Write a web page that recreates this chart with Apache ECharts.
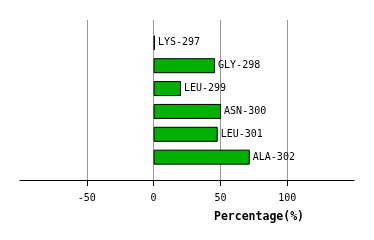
<!DOCTYPE html>
<html><head><meta charset="utf-8">
<script src="https://cdn.jsdelivr.net/npm/echarts@6/dist/echarts.min.js"></script>
<style>html,body{margin:0;padding:0;background:#fff}#c{width:374px;height:240px}</style>
</head><body><div id="c"></div>
<script>
const categories = ['LYS-297','GLY-298','LEU-299','ASN-300','LEU-301','ALA-302'];
const values = [1, 46, 20.5, 50.5, 48, 72];
const xTicks = [-50, 0, 50, 100];
const axisTitle = 'Percentage(%)';

const cats = [''].concat(categories).concat(['']);
const vals = [null].concat(values).concat([null]);
const font = 'DejaVu Sans Mono';
const chart = echarts.init(document.getElementById('c'), null, {renderer:'canvas'});
chart.setOption({
  animation:false,
  backgroundColor:'#fff',
  grid:{left:20, right:20, top:20, bottom:60, containLabel:false},
  title:{text:axisTitle, left:254, top:206, textAlign:'center',
    textStyle:{fontFamily:font, fontSize:11.5, fontWeight:'bold', color:'#000'}},
  xAxis:{type:'value', min:-100, max:150, interval:50,
    axisLine:{show:true, onZero:false, lineStyle:{color:'#000', width:1}},
    axisTick:{show:true, inside:false, length:6, lineStyle:{color:'#000', width:1}},
    axisLabel:{show:true, showMinLabel:false, showMaxLabel:false,
      fontFamily:font, fontSize:10, color:'#000', margin:13,
      formatter:v=> xTicks.includes(v) ? String(v) : ''},
    splitLine:{show:true, showMinLine:false, showMaxLine:false, lineStyle:{color:'#999', width:1}}
  },
  yAxis:{type:'category', data:cats, inverse:true, boundaryGap:false,
    axisLine:{show:false}, axisTick:{show:false}, axisLabel:{show:false}, splitLine:{show:false}},
  series:[{type:'bar', data:vals, barWidth:15, z:3,
    itemStyle:{color:'#00b000', borderColor:'#000', borderWidth:1},
    label:{show:true, position:'right', distance:3, color:'#000',
      fontFamily:font, fontSize:10,
      formatter:p=>categories[p.dataIndex-1]}
  }]
});
</script></body></html>
